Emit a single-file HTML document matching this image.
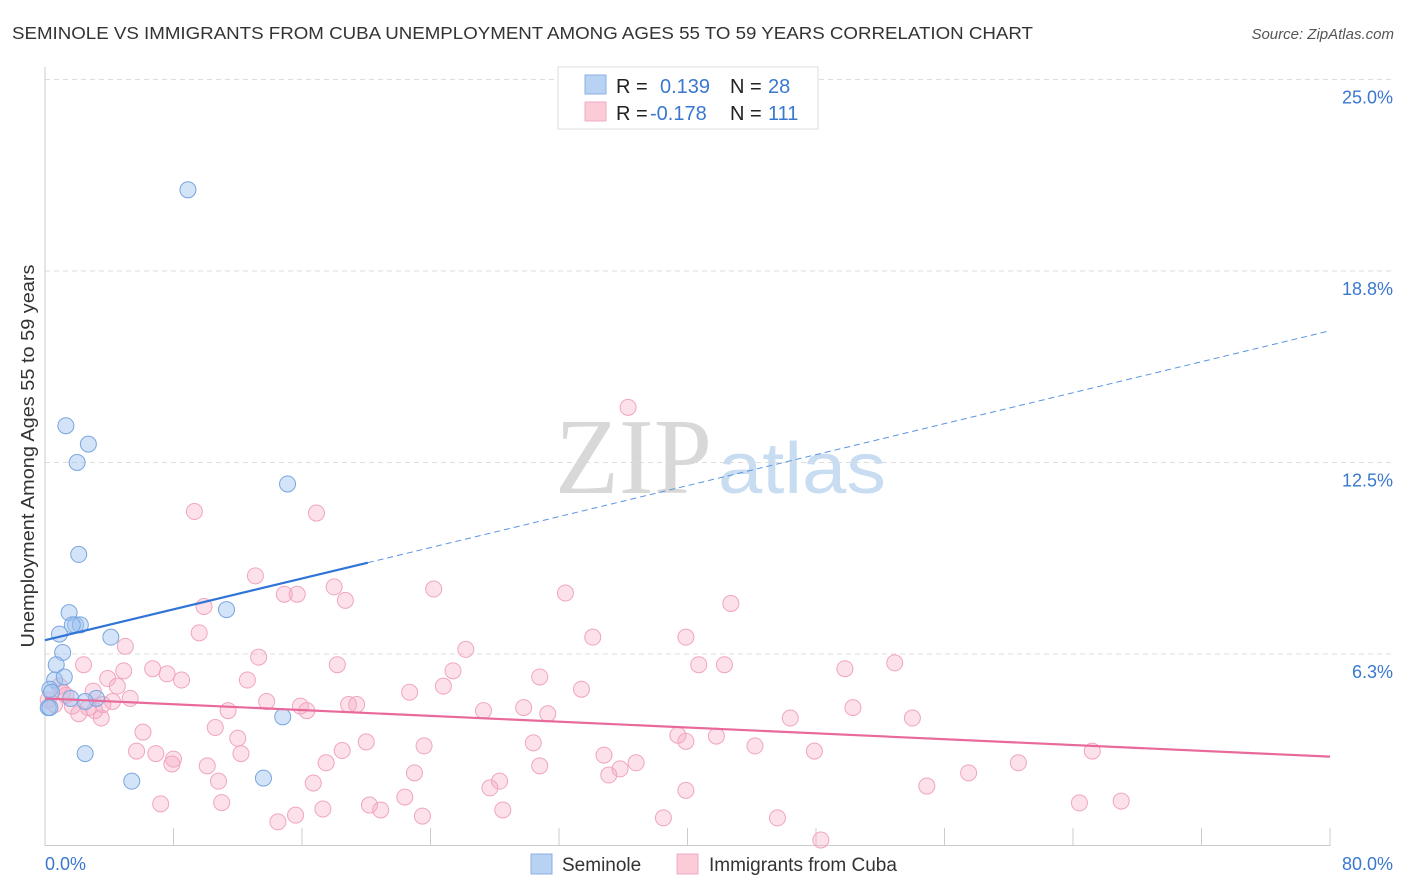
<!DOCTYPE html>
<html><head><meta charset="utf-8"><style>
body{margin:0;background:#fff;font-family:"Liberation Sans",sans-serif;}
#wrap{position:relative;width:1406px;height:892px;overflow:hidden;}
</style></head><body>
<div id="wrap">
<svg id="chart" width="1406" height="892">
<text x="12" y="39" font-size="17.5" fill="#333" textLength="1021" lengthAdjust="spacingAndGlyphs">SEMINOLE VS IMMIGRANTS FROM CUBA UNEMPLOYMENT AMONG AGES 55 TO 59 YEARS CORRELATION CHART</text>
<text x="1394" y="39" font-size="15" fill="#555" font-style="italic" text-anchor="end">Source: ZipAtlas.com</text>
<text x="555" y="493" font-size="108" fill="#d8d8d8" textLength="157" lengthAdjust="spacingAndGlyphs" font-family="Liberation Serif,serif">ZIP</text>
<text x="718" y="493" font-size="72" fill="#c8dcf2" textLength="168" lengthAdjust="spacingAndGlyphs">atlas</text>
<text transform="translate(34,456) rotate(-90)" font-size="18" fill="#333" text-anchor="middle" textLength="383" lengthAdjust="spacingAndGlyphs">Unemployment Among Ages 55 to 59 years</text>
<g id="grid"></g><g id="axes"></g><g id="pts"></g><g id="trend"></g>
<g>
<rect x="558" y="67" width="260" height="62" fill="#fff" stroke="#ddd"/>
<rect x="585" y="75" width="21" height="19" fill="#b8d2f4" stroke="#8ab0e4"/>
<rect x="585" y="102" width="21" height="19" fill="#fbcbd8" stroke="#f2aec2"/>
<text x="616" y="93" font-size="20" fill="#222">R =</text>
<text x="660" y="93" font-size="20" fill="#3a78d0">0.139</text>
<text x="730" y="93" font-size="20" fill="#222">N =</text>
<text x="768" y="93" font-size="20" fill="#3a78d0">28</text>
<text x="616" y="120" font-size="20" fill="#222">R =</text>
<text x="650" y="120" font-size="20" fill="#3a78d0">-0.178</text>
<text x="730" y="120" font-size="20" fill="#222">N =</text>
<text x="768" y="120" font-size="20" fill="#3a78d0">111</text>
</g>
<g>
<rect x="531" y="854" width="21" height="20" fill="#b8d2f4" stroke="#8ab0e4"/>
<text x="562" y="871" font-size="19" fill="#333">Seminole</text>
<rect x="677" y="854" width="21" height="20" fill="#fbcbd8" stroke="#f2aec2"/>
<text x="709" y="871" font-size="19" fill="#333">Immigrants from Cuba</text>
</g>
</svg>
</div>
<script>
const yTicks=[25,18.75,12.5,6.25];
const yTickLabels=["25.0%","18.8%","12.5%","6.3%"];
const xTicks=[0,8,16,24,32,40,48,56,64,72,80];
const seminoleX=[8.9,1.3,2.7,2.0,15.1,2.1,1.5,1.9,2.2,1.7,0.9,4.1,11.3,1.1,0.7,0.6,1.2,0.3,0.4,1.6,3.2,2.5,0.2,0.3,14.8,2.5,5.4,13.6];
const seminoleY=[21.4,13.7,13.1,12.5,11.8,9.5,7.6,7.2,7.2,7.2,6.9,6.8,7.7,6.3,5.9,5.4,5.5,5.1,5.0,4.8,4.8,4.7,4.5,4.5,4.2,3.0,2.1,2.2];
const cubaX=[36.3,9.3,16.9,13.1,24.2,18.0,14.9,15.7,18.7,32.4,42.7,9.9,9.6,34.1,39.9,5.0,26.2,13.3,2.4,4.9,6.7,7.6,8.5,40.7,42.3,49.8,52.9,18.2,25.4,3.9,4.5,12.6,24.8,30.8,33.4,22.7,3.0,5.3,1.3,0.9,4.2,3.1,13.8,15.9,16.3,18.9,19.4,27.3,29.8,31.3,50.3,11.4,2.1,3.5,46.4,54.0,10.6,6.1,12.0,39.4,39.9,41.8,23.6,20.0,44.2,30.4,47.9,5.7,6.9,8.0,7.9,12.2,18.5,34.8,65.2,10.1,17.5,30.8,36.8,35.8,23.0,35.1,57.5,60.6,10.8,28.3,27.7,16.7,39.9,54.9,22.4,7.2,11.0,20.2,17.3,20.9,28.5,64.4,67.0,15.6,14.5,23.5,38.5,45.6,48.3,0.2,0.6,1.7,2.7,1.1,3.6];
const cubaY=[14.3,10.9,10.85,8.8,8.37,8.44,8.2,8.2,8.0,8.24,7.9,7.8,6.94,6.8,6.8,6.5,6.4,6.15,5.9,5.7,5.77,5.6,5.4,5.9,5.9,5.77,5.96,5.9,5.7,5.45,5.2,5.4,5.2,5.5,5.1,5.0,5.04,4.8,4.9,5.2,4.7,4.4,4.7,4.55,4.4,4.6,4.6,4.4,4.5,4.3,4.5,4.4,4.3,4.16,4.16,4.16,3.85,3.7,3.5,3.6,3.4,3.57,3.25,3.38,3.25,3.35,3.08,3.08,3.0,2.82,2.66,3.0,3.1,2.95,3.08,2.6,2.7,2.6,2.7,2.5,2.37,2.3,2.37,2.7,2.1,2.1,1.88,2.04,1.8,1.94,1.58,1.36,1.4,1.32,1.19,1.16,1.16,1.39,1.45,0.99,0.77,0.96,0.9,0.9,0.18,4.75,4.6,4.55,4.5,5.0,4.6];
const seminoleTrend=[6.7,9.23,16.8];const seminoleTrendX=[0,20.1,80];
const cubaTrend=[4.8,2.9];const cubaTrendX=[0,80];
const NS="http://www.w3.org/2000/svg";
const X=v=>45+v*(1285/80), Y=v=>845.5-v*30.64;
function mk(p,t,a){const e=document.createElementNS(NS,t);for(const k in a)e.setAttribute(k,a[k]);p.appendChild(e);return e;}
const grid=document.getElementById('grid'),axes=document.getElementById('axes'),pts=document.getElementById('pts'),tr=document.getElementById('trend');
yTicks.forEach((t,i)=>{
 const l=mk(grid,'line',{x1:45,x2:1394,y1:Y(t),y2:Y(t),stroke:'#ddd','stroke-dasharray':'5,4'});
 
 
 const tx=mk(grid,'text',{x:1393,y:Y(t)+24,'font-size':18,fill:'#3a78d0','text-anchor':'end'});tx.textContent=yTickLabels[i];
 
 
});
mk(axes,'line',{x1:45,x2:45,y1:67,y2:846,stroke:'#ccc'});
mk(axes,'line',{x1:45,x2:1330,y1:845.5,y2:845.5,stroke:'#ccc'});
xTicks.forEach(t=>{const l=mk(axes,'line',{x1:X(t),x2:X(t),y1:828,y2:846,stroke:'#ccc'});
 
 });
let a=mk(axes,'text',{x:45,y:870,'font-size':18,fill:'#3a78d0'});a.textContent='0.0%';


a=mk(axes,'text',{x:1393,y:870,'font-size':18,fill:'#3a78d0','text-anchor':'end'});a.textContent='80.0%';


cubaX.forEach((x,i)=>{const c=mk(pts,'circle',{cx:X(x),cy:Y(cubaY[i]),r:8,fill:'rgba(245,170,195,0.35)',stroke:'#f0a5bf','stroke-width':1});
 
 });
seminoleX.forEach((x,i)=>{const c=mk(pts,'circle',{cx:X(x),cy:Y(seminoleY[i]),r:8,fill:'rgba(160,195,240,0.45)',stroke:'#78a6e0','stroke-width':1});
 
 });
let l=mk(tr,'line',{x1:X(seminoleTrendX[0]),y1:Y(seminoleTrend[0]),x2:X(seminoleTrendX[1]),y2:Y(seminoleTrend[1]),stroke:'#2f74d6','stroke-width':2.2});


l=mk(tr,'line',{x1:X(seminoleTrendX[1]),y1:Y(seminoleTrend[1]),x2:X(seminoleTrendX[2]),y2:Y(seminoleTrend[2]),stroke:'#5b95e0','stroke-width':1,'stroke-dasharray':'6,4'});


l=mk(tr,'line',{x1:X(cubaTrendX[0]),y1:Y(cubaTrend[0]),x2:X(cubaTrendX[1]),y2:Y(cubaTrend[1]),stroke:'#e8699a','stroke-width':2.2});


</script>
</body></html>
